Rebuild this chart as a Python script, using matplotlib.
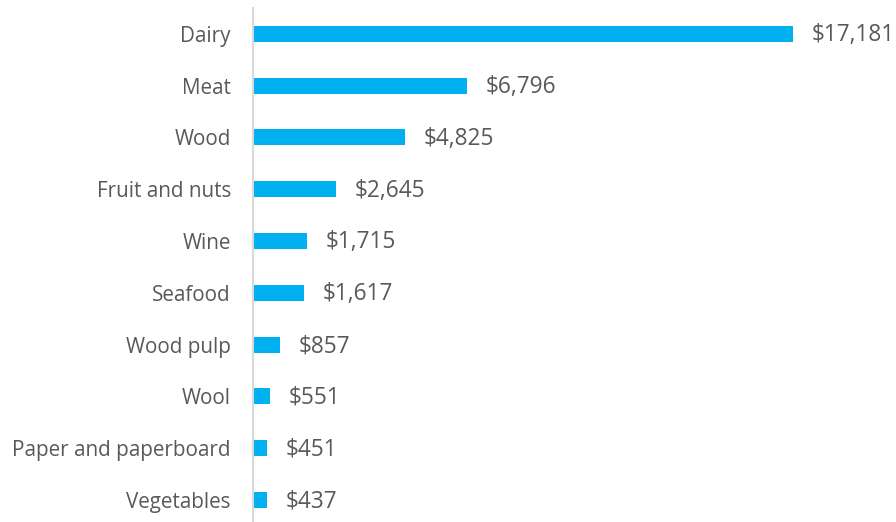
import matplotlib
matplotlib.use('Agg')
import matplotlib.pyplot as plt

# Export values (millions)
categories = ['Dairy', 'Meat', 'Wood', 'Fruit and nuts', 'Wine', 'Seafood',
              'Wood pulp', 'Wool', 'Paper and paperboard', 'Vegetables']
values = [17181, 6796, 4825, 2645, 1715, 1617, 857, 551, 451, 437]

plt.rcParams['font.family'] = ['Open Sans', 'DejaVu Sans']

fig = plt.figure(figsize=(8.96, 5.22), dpi=100)
ax = fig.add_axes([253 / 896, 0, 1 - 253 / 896, 1 - 8 / 522])

pos = list(range(len(categories)))
ax.barh(pos, values, height=0.31, color='#00B0F0')

for p, v in zip(pos, values):
    ax.annotate('${:,}'.format(v), xy=(v, p), xytext=(13.5, -1),
                textcoords='offset points', va='center', ha='left',
                fontsize=16.3, color='#595959')

ax.set_yticks(pos)
ax.set_yticklabels(categories, fontsize=14.9, color='#595959')
ax.tick_params(axis='y', length=0, pad=16)
ax.set_xticks([])
ax.set_xlim(0, 20458)
ax.set_ylim(9.425, -0.5)

for side in ['top', 'right', 'bottom']:
    ax.spines[side].set_visible(False)
ax.spines['left'].set_color('#D9D9D9')
ax.spines['left'].set_linewidth(1.5)

fig.savefig('out.png', dpi=100)
